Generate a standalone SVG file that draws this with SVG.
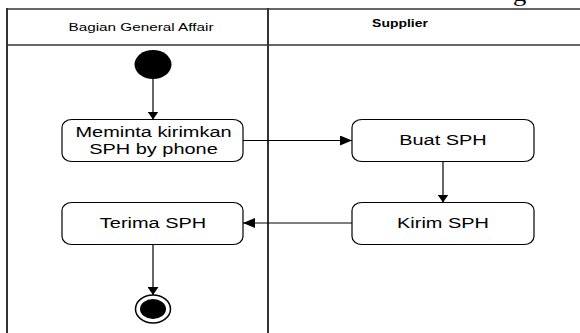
<svg xmlns="http://www.w3.org/2000/svg" width="580" height="333" viewBox="0 0 580 333">
  <style>
    .lane{fill:none;stroke:#333;stroke-width:2}
    .laneh{fill:none;stroke:#666;stroke-width:2}
    .act rect{fill:#fff;stroke:#000;stroke-width:1.2}
    .lbl{font-family:"Liberation Sans",Arial,sans-serif;font-size:15px;fill:#000;text-anchor:middle}
    .hdr{font-family:"Liberation Sans",Arial,sans-serif;font-size:11.5px;fill:#000;text-anchor:middle}
    .hdrb{font-family:"Liberation Sans",Arial,sans-serif;font-size:10.5px;font-weight:bold;fill:#000;text-anchor:middle}
    .edge{stroke:#000;stroke-width:1.2;fill:none}
    .v{marker-end:url(#arrV)}
    .h{marker-end:url(#arrH)}
  </style>
  <defs>
    <marker id="arrV" viewBox="0 0 8 11" refX="8" refY="5.5" markerWidth="8" markerHeight="11" markerUnits="userSpaceOnUse" orient="auto">
      <path d="M0,0 L8,5.5 L0,11 z" fill="#000"/>
    </marker>
    <marker id="arrH" viewBox="0 0 12 10" refX="12" refY="5" markerWidth="12" markerHeight="10" markerUnits="userSpaceOnUse" orient="auto">
      <path d="M0,0 L12,5 L0,10 z" fill="#000"/>
    </marker>
  </defs>

  <rect width="580" height="333" fill="#fff"/>

  <!-- caption fragment above the lanes, running off the top edge -->
  <text x="0" y="0" transform="matrix(1.33,0,0,1,513,1)" font-family="'Liberation Serif',serif" font-size="20" fill="#000">g</text>

  <!-- swimlanes -->
  <g id="lanes">
    <line class="laneh" x1="6" y1="9" x2="580" y2="9"/>
    <line class="laneh" x1="6" y1="45" x2="580" y2="45"/>
    <line class="lane" x1="7" y1="8" x2="7" y2="333"/>
    <line class="lane" x1="268" y1="8" x2="268" y2="333"/>
    <text class="hdr" transform="matrix(1.33,0,0,1,141,31)">Bagian General Affair</text>
    <text class="hdrb" transform="matrix(1.33,0,0,1,400,27)">Supplier</text>
  </g>

  <!-- start node -->
  <g id="start">
    <ellipse cx="153" cy="64.5" rx="18.5" ry="14.5" fill="#000"/>
  </g>

  <g id="meminta" class="act">
    <rect x="62" y="119.5" width="181" height="42" rx="10" ry="8"/>
    <text class="lbl" transform="matrix(1.33,0,0,1,153.5,137)">Meminta kirimkan</text>
    <text class="lbl" transform="matrix(1.33,0,0,1,153.5,154)">SPH by phone</text>
  </g>

  <g id="buat" class="act">
    <rect x="352" y="119.5" width="182" height="42" rx="10" ry="8"/>
    <text class="lbl" transform="matrix(1.33,0,0,1,443,145)">Buat SPH</text>
  </g>

  <g id="kirim" class="act">
    <rect x="352" y="202.5" width="182" height="42" rx="10" ry="8"/>
    <text class="lbl" transform="matrix(1.33,0,0,1,443,228)">Kirim SPH</text>
  </g>

  <g id="terima" class="act">
    <rect x="62" y="202.5" width="181" height="42" rx="10" ry="8"/>
    <text class="lbl" transform="matrix(1.33,0,0,1,153,227.5)">Terima SPH</text>
  </g>

  <!-- final node -->
  <g id="end">
    <ellipse cx="153" cy="309" rx="17.5" ry="14" fill="#fff" stroke="#000" stroke-width="1.5"/>
    <ellipse cx="153" cy="309" rx="13" ry="10" fill="#000"/>
  </g>

  <!-- transitions -->
  <g id="connectors">
    <line class="edge v" x1="153" y1="79" x2="153" y2="119.5"/>
    <line class="edge h" x1="243" y1="140.5" x2="352" y2="140.5"/>
    <line class="edge v" x1="443" y1="161.5" x2="443" y2="202.5"/>
    <line class="edge h" x1="352" y1="223" x2="243" y2="223"/>
    <line class="edge v" x1="153" y1="244.5" x2="153" y2="295"/>
  </g>
</svg>
